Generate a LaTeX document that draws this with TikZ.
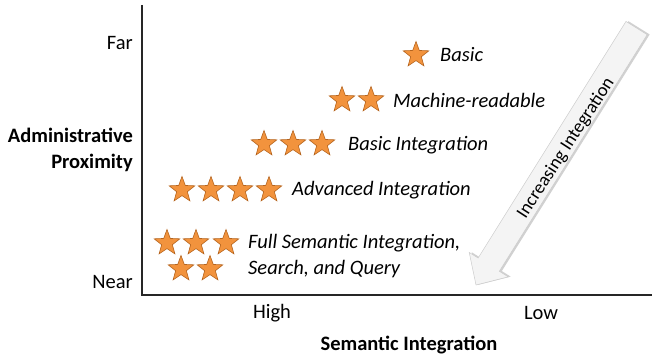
\documentclass[tikz,border=0pt]{standalone}
\usepackage{fontspec}
\setmainfont{Carlito}
\usetikzlibrary{shapes.geometric}
\definecolor{starfill}{HTML}{F2933D}
\definecolor{starline}{HTML}{B5641E}
\definecolor{arrowfill}{HTML}{F4F4F4}
\definecolor{arrowline}{HTML}{CCCCCC}
\tikzset{
  rating/.style={star, star points=5, star point ratio=2.4, minimum size=27pt,
    inner sep=0pt, fill=starfill, draw=starline, line width=0.6pt},
  level/.style={font=\fontsize{20.5}{25}\selectfont\itshape, anchor=west, inner sep=0pt},
  tick/.style={font=\fontsize{20.5}{25}\selectfont, inner sep=0pt},
  arrowtext/.style={font=\fontsize{18.5}{22}\selectfont, inner sep=0pt},
  axistitle/.style={font=\fontsize{20.5}{25.5}\selectfont\bfseries, inner sep=0pt},
  axisline/.style={line width=1.6pt, black!85},
}
\begin{document}
\begin{tikzpicture}[x=1pt, y=-1pt]
\useasboundingbox (0,0) rectangle (652,358);

% axes
\coordinate (top) at (142,5);
\coordinate (origin) at (142,295);
\coordinate (right) at (652,295);
\draw[axisline] (top) -- (origin) -- (right);

% big arrow pointing towards higher integration
\begin{scope}[shift={(476,285)}, rotate=58]
  \fill[black!18] (1.5pt,-2pt) -- (25.5pt,21pt) -- (25.5pt,10.5pt) -- (304.5pt,10.5pt)
     -- (304.5pt,-14.5pt) -- (25.5pt,-14.5pt) -- (25.5pt,-25pt) -- cycle;
  \filldraw[fill=arrowfill, draw=arrowline, line width=0.5pt]
     (0pt,0pt) -- (24pt,23pt) -- (24pt,12.5pt) -- (303pt,12.5pt)
     -- (303pt,-12.5pt) -- (24pt,-12.5pt) -- (24pt,-23pt) -- cycle;
\end{scope}
\node[arrowtext, rotate=57] (incr) at (566,148) {Increasing Integration};

% y axis labels
\node[tick, anchor=east] (far) at (133,43) {Far};
\node[tick, anchor=east] (near) at (133,282) {Near};
\node[axistitle, anchor=east, align=right] (ytitle) at (133,150) {Administrative\\Proximity};

% x axis labels
\node[tick] (high) at (272,313) {High};
\node[tick] (low) at (541,313) {Low};
\node[axistitle] (xtitle) at (409,345) {Semantic Integration};

% one star
\node[rating] (s11) at (416,55) {};
\node[level] (l1) at (440,55) {Basic};

% two stars
\node[rating] (s21) at (342,100) {};
\node[rating] (s22) at (371,100) {};
\node[level] (l2) at (393,100) {Machine-readable};

% three stars
\node[rating] (s31) at (264,144) {};
\node[rating] (s32) at (293,144) {};
\node[rating] (s33) at (322,144) {};
\node[level] (l3) at (348,145) {Basic Integration};

% four stars
\node[rating] (s41) at (182,190) {};
\node[rating] (s42) at (211,190) {};
\node[rating] (s43) at (240,190) {};
\node[rating] (s44) at (269,190) {};
\node[level] (l4) at (292,190) {Advanced Integration};

% five stars
\node[rating] (s51) at (167,243) {};
\node[rating] (s52) at (196,243) {};
\node[rating] (s53) at (226,243) {};
\node[rating] (s54) at (181,269) {};
\node[rating] (s55) at (210,269) {};
\node[level] (l5a) at (248,243) {Full Semantic Integration,};
\node[level] (l5b) at (248,269) {Search, and Query};
\end{tikzpicture}
\end{document}
